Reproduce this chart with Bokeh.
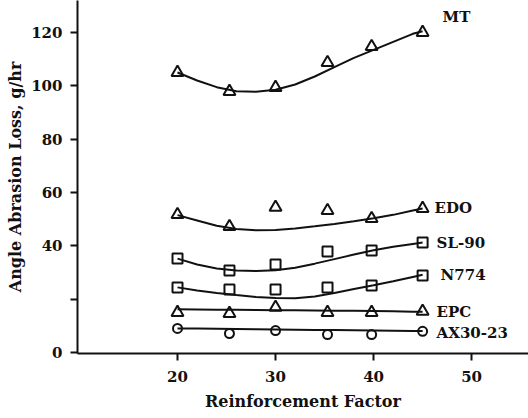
from bokeh.plotting import figure
from bokeh.models import Range1d, FixedTicker, ColumnDataSource
from bokeh.embed import file_html
from bokeh.resources import INLINE
from bokeh.core.properties import value

# ---- data ----
rf = [20, 25.3, 30, 35.3, 39.8, 45]          # reinforcement factor of measured points
names = ["MT", "EDO", "SL-90", "N774", "EPC", "AX30-23"]
mt_pts = [105, 97.9, 99.4, 108.7, 114.7, 120]
edo_pts = [51.7, 47.2, 54.4, 53.2, 50.2, 54]
sl90_pts = [35.2, 30.7, 33, 37.9, 38.2, 41.2]
n774_pts = [24.4, 23.6, 23.6, 24.4, 25.1, 28.9]
epc_pts = [15, 14.6, 16.9, 15, 15, 15.4]
ax_pts = [9, 7.1, 8.2, 6.7, 6.7, 7.9]

# fitted curves
curve_x = [20, 22, 24, 26, 28, 30, 32, 34, 36, 38, 40, 42, 44, 45]
mt_curve = [105, 102, 99.5, 98, 97.8, 98.5, 100.5, 103.5, 107, 110.5, 113.5, 116.5, 119.5, 120.5]
edo_curve = [51.5, 49.5, 47.5, 46.3, 45.8, 45.9, 46.5, 47.3, 48.2, 49.2, 50.3, 51.6, 53.2, 54]
sl90_curve = [35.2, 33, 31.5, 30.7, 30.5, 30.8, 31.8, 33.3, 35, 36.7, 38.3, 39.6, 40.7, 41.2]
n774_curve = [24.4, 23.2, 22.3, 21.5, 20.8, 20.4, 20.3, 21, 22.3, 23.8, 25.2, 26.7, 28.3, 29.1]
epc_curve = [16.2, 16.1, 16.0, 16.0, 15.9, 15.8, 15.8, 15.7, 15.6, 15.6, 15.5, 15.4, 15.3, 15.3]
ax_curve = [9.0, 9.0, 8.9, 8.8, 8.7, 8.6, 8.5, 8.4, 8.4, 8.3, 8.2, 8.1, 8.0, 8.0]

y_ticks = [0, 20, 40, 60, 80, 100, 120]
x_ticks = [20, 30, 40, 50]

FONT = "DejaVu Serif"
INK = "#111111"

p = figure(width=528, height=418, output_backend="svg", toolbar_location=None,
           x_range=Range1d(9.8, 55.8), y_range=Range1d(-0.4, 132),
           min_border_left=77, min_border_right=0, min_border_top=0,
           min_border_bottom=65, background_fill_color="white",
           border_fill_color="white")
p.outline_line_color = None
p.grid.visible = False

for ax in (p.xaxis[0], p.yaxis[0]):
    ax.axis_line_width = 2
    ax.axis_line_color = INK
    ax.major_tick_line_width = 2
    ax.major_tick_line_color = INK
    ax.major_tick_out = 7
    ax.major_tick_in = 0
    ax.minor_tick_line_color = None
    ax.major_label_text_font = FONT
    ax.major_label_text_font_size = "15px"
    ax.major_label_text_font_style = "bold"
    ax.major_label_text_color = INK
    ax.axis_label_text_font = FONT
    ax.axis_label_text_font_style = "bold"
    ax.axis_label_text_color = INK

p.yaxis.ticker = FixedTicker(ticks=y_ticks)
p.yaxis.major_label_overrides = {20: ""}
p.yaxis.major_label_standoff = 8
p.yaxis.axis_label = "Angle Abrasion Loss, g/hr"
p.yaxis.axis_label_text_font_size = "16px"
p.yaxis.axis_label_standoff = 3

p.xaxis.ticker = FixedTicker(ticks=x_ticks)
p.xaxis.major_label_standoff = 10
p.xaxis.axis_label = "Reinforcement Factor"
p.xaxis.axis_label_text_font_size = "16px"
p.xaxis.axis_label_standoff = 7

curves = [mt_curve, edo_curve, sl90_curve, n774_curve, epc_curve, ax_curve]
points = [mt_pts, edo_pts, sl90_pts, n774_pts, epc_pts, ax_pts]
markers = ["triangle", "triangle", "square", "square", "triangle", "circle"]
msizes = [12, 12, 10, 10, 12, 9]

for cv, pts, mk, ms in zip(curves, points, markers, msizes):
    p.line(curve_x, cv, line_width=2, line_color=INK)
    p.scatter(rf, pts, marker=mk, size=ms, line_width=2, line_color=INK,
              fill_color=None)

# series labels next to the curve ends
lab_dx = [20, 12, 14, 18, 14, 14]
lab_dy = [-14, 0, 0, 0, 0, 2]
src = ColumnDataSource(dict(
    x=[curve_x[-1]] * len(names),
    y=[c[-1] for c in curves],
    text=names,
    dx=lab_dx,
    dy=lab_dy,
))
p.text(x="x", y="y", text="text", x_offset="dx", y_offset="dy", source=src,
       text_font=value(FONT), text_font_size="15px", text_font_style="bold",
       text_color=INK, text_baseline="middle", text_align="left")

open("out.html", "w").write(file_html(p, INLINE))
